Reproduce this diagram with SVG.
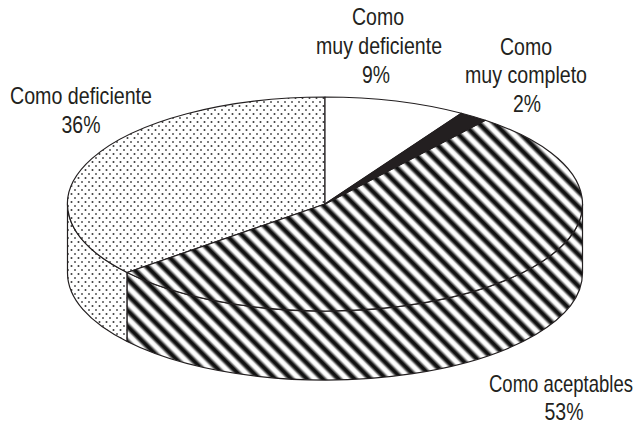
<svg xmlns="http://www.w3.org/2000/svg" width="644" height="424" viewBox="0 0 644 424">
  <style>
    .edge { stroke: #231f20; stroke-width: 1.2; stroke-linejoin: round; }
    .lbl { font-family: "Liberation Sans Narrow", "Liberation Sans", Arial, sans-serif; font-size: 24px; fill: #231f20; text-anchor: middle; }
  </style>
  <defs>
    <pattern id="dots" patternUnits="userSpaceOnUse" width="7" height="8">
      <rect width="7" height="8" fill="#ffffff"/>
      <circle cx="1.5" cy="2" r="1" fill="#3a3a3a"/>
      <circle cx="5" cy="6" r="1" fill="#555555"/>
    </pattern>
    <linearGradient id="band" x1="0" y1="0" x2="1" y2="0">
      <stop offset="0" stop-color="#ffffff"/>
      <stop offset="0.1" stop-color="#ffffff"/>
      <stop offset="0.25" stop-color="#666666"/>
      <stop offset="0.35" stop-color="#111111"/>
      <stop offset="0.55" stop-color="#111111"/>
      <stop offset="0.67" stop-color="#777777"/>
      <stop offset="0.82" stop-color="#ffffff"/>
      <stop offset="1" stop-color="#ffffff"/>
    </linearGradient>
    <pattern id="stripes" patternUnits="userSpaceOnUse" width="11.2" height="11.2" patternTransform="rotate(-45)">
      <rect width="11.2" height="11.2" fill="url(#band)"/>
    </pattern>
  </defs>

  <g id="slice-deficiente">
    <path class="edge" fill="url(#dots)" d="M127.16 272.49 A257.5 107 0 0 1 67.5 204 L67.5 273 A257.5 107 0 0 0 127.16 341.49 Z"/>
    <path class="edge" fill="url(#dots)" d="M325 204 L127.16 272.49 A257.5 107 0 0 1 325 97 Z"/>
  </g>
  <g id="slice-aceptables">
    <path class="edge" fill="url(#stripes)" d="M582.5 204 A257.5 107 0 0 1 127.16 272.49 L127.16 341.49 A257.5 107 0 0 0 582.5 273 Z"/>
    <path class="edge" fill="url(#stripes)" d="M325 204 L485.29 120.26 A257.5 107 0 1 1 127.16 272.49 Z"/>
  </g>
  <g id="slice-muy-deficiente">
    <path class="edge" fill="#ffffff" d="M325 204 L325 97 A257.5 107 0 0 1 461.45 113.26 Z"/>
  </g>
  <g id="slice-muy-completo">
    <path class="edge" fill="#231f20" d="M325 204 L461.45 113.26 A257.5 107 0 0 1 485.29 120.26 Z"/>
  </g>

  <g id="label-muy-deficiente">
    <text class="lbl" x="378" y="25" textLength="52" lengthAdjust="spacingAndGlyphs">Como</text>
    <text class="lbl" x="379" y="54" textLength="126" lengthAdjust="spacingAndGlyphs">muy deficiente</text>
    <text class="lbl" x="376" y="83" textLength="28" lengthAdjust="spacingAndGlyphs">9%</text>
  </g>
  <g id="label-muy-completo">
    <text class="lbl" x="526" y="55" textLength="52" lengthAdjust="spacingAndGlyphs">Como</text>
    <text class="lbl" x="526" y="83" textLength="122" lengthAdjust="spacingAndGlyphs">muy completo</text>
    <text class="lbl" x="527" y="112" textLength="28" lengthAdjust="spacingAndGlyphs">2%</text>
  </g>
  <g id="label-deficiente">
    <text class="lbl" x="81" y="104" textLength="142" lengthAdjust="spacingAndGlyphs">Como deficiente</text>
    <text class="lbl" x="81" y="133" textLength="39" lengthAdjust="spacingAndGlyphs">36%</text>
  </g>
  <g id="label-aceptables">
    <text class="lbl" x="561" y="392" textLength="144" lengthAdjust="spacingAndGlyphs">Como aceptables</text>
    <text class="lbl" x="564" y="420" textLength="39" lengthAdjust="spacingAndGlyphs">53%</text>
  </g>
</svg>
